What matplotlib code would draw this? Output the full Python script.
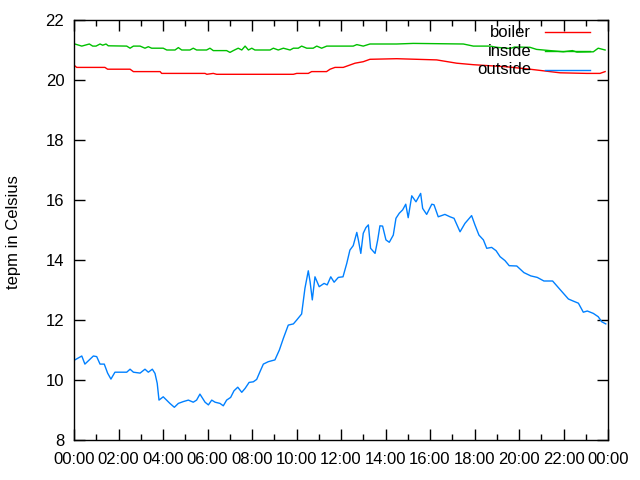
import matplotlib
matplotlib.use("Agg")
import matplotlib.pyplot as plt
from matplotlib.ticker import MultipleLocator, FuncFormatter

plt.rcParams['font.family'] = ['Liberation Sans', 'DejaVu Sans']

# outside temperature (blue)
outside_h = [0.04, 0.35, 0.49, 0.87, 1.02, 1.17, 1.36, 1.51, 1.66, 1.84, 2.37, 2.52,
             2.67, 2.97, 3.19, 3.34, 3.52, 3.64, 3.74, 3.82, 4.01, 4.31, 4.51, 4.69,
             4.91, 5.14, 5.36, 5.51, 5.66, 5.89, 6.04, 6.19, 6.34, 6.56, 6.71, 6.86,
             7.04, 7.19, 7.36, 7.54, 7.69, 7.87, 8.06, 8.21, 8.36, 8.51, 8.73, 9.03,
             9.23, 9.41, 9.63, 9.86, 10.01, 10.23, 10.38, 10.53, 10.61, 10.71, 10.83,
             11.02, 11.24, 11.38, 11.54, 11.69, 11.88, 12.09, 12.26, 12.40, 12.55,
             12.71, 12.78, 12.89, 13.00, 13.12, 13.23, 13.33, 13.53, 13.65, 13.75,
             13.87, 14.02, 14.17, 14.35, 14.47, 14.62, 14.77, 14.91, 15.02, 15.18,
             15.37, 15.58, 15.67, 15.85, 16.08, 16.18, 16.37, 16.67, 16.90, 17.08,
             17.35, 17.57, 17.87, 18.02, 18.20, 18.40, 18.55, 18.77, 18.97, 19.15,
             19.37, 19.56, 19.90, 20.22, 20.53, 20.82, 21.12, 21.51, 21.84, 22.22,
             22.44, 22.67, 22.89, 23.07, 23.34, 23.56, 23.72, 23.90]
outside_t = [10.67, 10.8, 10.53, 10.8, 10.78, 10.53, 10.53, 10.23, 10.03, 10.26, 10.26, 10.36,
             10.26, 10.23, 10.36, 10.26, 10.36, 10.22, 9.89, 9.33, 9.44, 9.22, 9.09, 9.22,
             9.28, 9.33, 9.26, 9.33, 9.53, 9.26, 9.17, 9.33, 9.26, 9.22, 9.14, 9.33,
             9.42, 9.64, 9.76, 9.59, 9.72, 9.92, 9.94, 10.02, 10.28, 10.53, 10.61, 10.67,
             11.0, 11.39, 11.83, 11.87, 12.0, 12.2, 13.06, 13.64, 13.28, 12.67, 13.44,
             13.11, 13.22, 13.17, 13.44, 13.26, 13.42, 13.44, 13.89, 14.33, 14.48,
             14.92, 14.67, 14.22, 14.89, 15.08, 15.17, 14.39, 14.22, 14.67, 15.14,
             15.13, 14.67, 14.59, 14.83, 15.39, 15.56, 15.67, 15.86, 15.41, 16.14,
             15.94, 16.22, 15.72, 15.52, 15.86, 15.84, 15.44, 15.52, 15.44, 15.39,
             14.94, 15.22, 15.48, 15.17, 14.83, 14.67, 14.39, 14.42, 14.31, 14.11,
             13.98, 13.81, 13.8, 13.58, 13.47, 13.42, 13.3, 13.3, 13.02, 12.7,
             12.63, 12.56, 12.26, 12.3, 12.22, 12.11, 11.94, 11.87]

# boiler temperature (red)
boiler_h = [0.04, 0.12, 1.39, 1.51, 2.52, 2.67, 3.87, 3.94, 5.89, 5.97, 6.26, 6.41,
            9.86, 10.01, 10.53, 10.68, 11.35, 11.51, 11.73, 12.10, 12.63, 13.00, 13.30,
            14.50, 16.30, 17.20, 17.95, 19.45, 20.49, 21.84, 23.04, 23.64, 23.87]
boiler_t = [20.47, 20.42, 20.42, 20.36, 20.36, 20.28, 20.28, 20.22, 20.22, 20.19, 20.22, 20.19,
            20.19, 20.22, 20.22, 20.28, 20.28, 20.36, 20.42, 20.42, 20.56, 20.61, 20.69,
            20.71, 20.67, 20.56, 20.51, 20.44, 20.36, 20.24, 20.22, 20.22, 20.28]

# inside temperature (green)
inside_h = [0.04, 0.35, 0.69, 0.84, 0.99, 1.17, 1.29, 1.44, 1.54, 2.37, 2.52, 2.67, 2.97,
            3.19, 3.34, 3.49, 4.01, 4.17, 4.54, 4.69, 4.84, 5.21, 5.36, 5.51, 5.96, 6.11,
            6.26, 6.86, 7.01, 7.16, 7.38, 7.54, 7.69, 7.84, 7.99, 8.13, 8.81, 8.96, 9.18,
            9.41, 9.71, 9.86, 10.08, 10.23, 10.46, 10.75, 10.91, 11.13, 11.36, 11.92,
            12.55, 12.71, 13.00, 13.30, 14.50, 15.25, 17.50, 17.95, 18.70, 19.00, 19.60,
            19.80, 20.49, 20.79, 21.99, 22.40, 22.60, 23.34, 23.56, 23.87]
inside_t = [21.2, 21.13, 21.2, 21.13, 21.13, 21.2, 21.16, 21.2, 21.14, 21.13, 21.06, 21.13, 21.13,
            21.06, 21.11, 21.06, 21.06, 21.0, 21.0, 21.08, 21.0, 21.0, 21.06, 21.0, 21.0, 21.06,
            20.98, 20.98, 20.92, 20.98, 21.06, 21.0, 21.13, 21.0, 21.06, 21.0, 21.0, 21.06, 21.0,
            21.06, 21.0, 21.06, 21.06, 21.13, 21.06, 21.06, 21.13, 21.06, 21.13, 21.13,
            21.13, 21.18, 21.13, 21.2, 21.2, 21.22, 21.2, 21.13, 21.13, 21.09, 21.05,
            21.1, 21.09, 21.02, 20.94, 20.98, 20.93, 20.94, 21.06, 21.0]

labels = ['boiler', 'inside', 'outside']
colors = ['#ff0000', '#00c000', '#0080ff']

fig = plt.figure(figsize=(6.4, 4.8), dpi=100)
ax = fig.add_axes([74 / 640, 40 / 480, 534 / 640, 420 / 480])

ax.plot(boiler_h, boiler_t, color=colors[0], lw=1)
ax.plot(inside_h, inside_t, color=colors[1], lw=1)
ax.plot(outside_h, outside_t, color=colors[2], lw=1)

ax.set_xlim(0, 24)
ax.set_ylim(8, 22)
ax.xaxis.set_major_locator(MultipleLocator(2))
ax.xaxis.set_minor_locator(MultipleLocator(1))
ax.yaxis.set_major_locator(MultipleLocator(2))
ax.xaxis.set_major_formatter(FuncFormatter(lambda v, p: "%02d:00" % (int(round(v)) % 24)))
ax.tick_params(which='major', direction='in', length=8, width=1, top=True, right=True,
               labelsize=12)
ax.tick_params(axis='x', which='major', pad=9)
ax.tick_params(axis='y', which='major', pad=7)
ax.tick_params(which='minor', direction='in', length=4, width=1, top=True, right=True)
for s in ax.spines.values():
    s.set_linewidth(1)

fig.text(14 / 640, 1 - 232 / 480, 'tepm in Celsius', rotation=90, ha='center', va='center',
         fontsize=12)

# gnuplot-style key: right-aligned text then line sample
key_y = [0.971, 0.926, 0.881]
for lab, col, yy in zip(labels, colors, key_y):
    ax.text(0.856, yy, lab, transform=ax.transAxes, ha='right', va='center', fontsize=12)
    ax.plot([0.882, 0.966], [yy, yy], transform=ax.transAxes, color=col, lw=1)

fig.savefig('out.png', dpi=100)
